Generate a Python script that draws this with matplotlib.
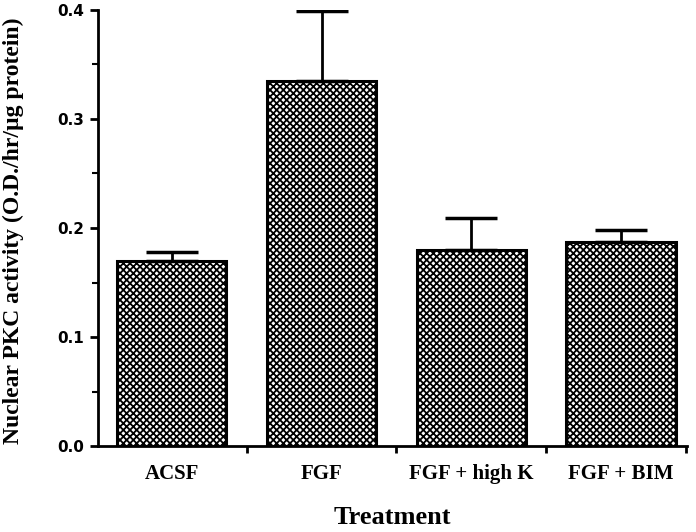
import matplotlib
matplotlib.use("Agg")
import matplotlib.pyplot as plt
from matplotlib.ticker import MultipleLocator, FixedLocator

categories = ["ACSF", "FGF", "FGF + high K", "FGF + BIM"]
means = [0.170, 0.335, 0.180, 0.187]
errors = [0.008, 0.064, 0.029, 0.011]
yticks = [0.0, 0.1, 0.2, 0.3, 0.4]
ytick_labels = ["0.0", "0.1", "0.2", "0.3", "0.4"]

plt.rcParams['hatch.linewidth'] = 1.3
fig = plt.figure(figsize=(6.96, 5.32), dpi=100)
ax = fig.add_axes([98/696, 1-446/532, (687-98)/696, (446-10)/532])

x = list(range(len(categories)))
ax.bar(x, means, width=0.73, color="white", edgecolor="black", linewidth=2.2,
       hatch="xxxxx", zorder=2)
ax.errorbar(x, means, yerr=[[0]*len(errors), errors], fmt="none",
            ecolor="black", elinewidth=2, capsize=19, capthick=2.5, zorder=3)

ax.set_xlim(-0.493, 3.44)
ax.set_ylim(0, 0.4)
for s in ["top", "right"]:
    ax.spines[s].set_visible(False)
for s in ["left", "bottom"]:
    ax.spines[s].set_linewidth(2)

ax.set_yticks(yticks)
ax.set_yticklabels(ytick_labels, fontfamily="DejaVu Sans", fontweight="bold", fontsize=11)
ax.yaxis.set_minor_locator(MultipleLocator(0.05))
ax.tick_params(axis="y", which="major", direction="out", length=6, width=2, pad=4)
ax.tick_params(axis="y", which="minor", direction="out", length=4, width=1.5)

ax.set_xticks(x)
ax.set_xticklabels(categories, fontfamily="Liberation Serif", fontweight="bold", fontsize=15)
ax.xaxis.set_minor_locator(FixedLocator([0.5, 1.5, 2.5, 3.435]))
ax.tick_params(axis="x", which="major", length=0, pad=13)
ax.tick_params(axis="x", which="minor", direction="out", length=5, width=2)

fig.text(13/696, 1-231/532, "Nuclear PKC activity (O.D./hr/\u00b5g protein)",
         rotation=90, ha="center", va="center", fontfamily="Liberation Serif",
         fontweight="bold", fontsize=17)
fig.text(392/696, 1-517/532, "Treatment", ha="center", va="center",
         fontfamily="Liberation Serif", fontweight="bold", fontsize=19)

fig.savefig("out.png", dpi=100)
